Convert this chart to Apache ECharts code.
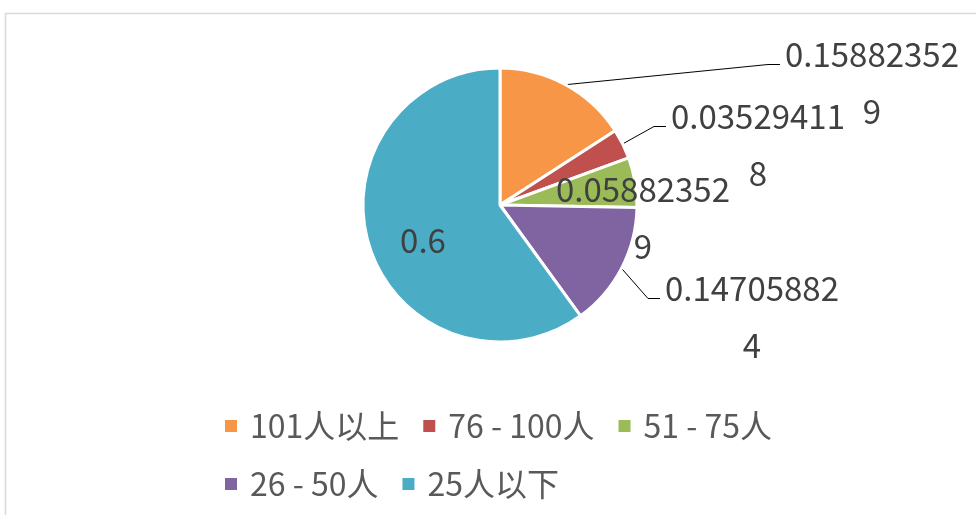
<!DOCTYPE html>
<html>
<head>
<meta charset="utf-8">
<script src="https://cdn.jsdelivr.net/npm/echarts@6/dist/echarts.min.js"></script>
<style>
  html, body { margin: 0; padding: 0; background: #fff; }
  #chart { width: 976px; height: 515px; }
</style>
</head>
<body>
<div id="chart"></div>
<script>
// 人数分组及占比
const categories = ['101人以上', '76 - 100人', '51 - 75人', '26 - 50人', '25人以下']
const shares = [0.158823529, 0.035294118, 0.058823529, 0.147058824, 0.6]
const colors = ['#F79646', '#C0504D', '#9BBB59', '#8064A2', '#4BACC6']

// 标签位置（中心点）与是否显示引导线
const labelSpots = [
    { x: 872, y: 83, line: true },
    { x: 758, y: 145, line: true },
    { x: 643, y: 218, line: false },
    { x: 752, y: 317, line: true },
    { x: 423, y: 240, line: false }
]
const LABEL_LH = 57

// Excel 风格：长数字每10个字符换行
const wrapNumber = v => {
    const s = String(v)
    const parts = []
    for (let i = 0; i < s.length; i += 10) parts.push(s.slice(i, i + 10))
    return parts.join('\n')
}

const chart = echarts.init(document.getElementById('chart'))

const option = {
    animation: false,
    color: colors,
    graphic: [{
        type: 'rect',
        shape: { x: 5.5, y: 13.5, width: 1200, height: 800 },
        style: { fill: 'none', stroke: '#d9d9d9', lineWidth: 1.5 },
        silent: true
    }],
    legend: {
        left: 218,
        top: 403,
        width: 600,
        icon: 'rect',
        itemWidth: 14,
        itemHeight: 14,
        itemGap: 22,
        textStyle: {
            fontFamily: 'Noto Sans CJK SC',
            fontSize: 32,
            color: '#595959',
            lineHeight: 36,
            padding: [0, 0, 0, 7]
        },
        data: categories
    },
    series: [{
        type: 'pie',
        center: [500, 205],
        radius: 137,
        startAngle: 90,
        clockwise: true,
        itemStyle: { borderColor: '#fff', borderWidth: 3 },
        label: {
            show: true,
            position: 'outside',
            formatter: p => wrapNumber(p.value),
            fontFamily: 'Noto Sans CJK SC',
            fontSize: 33,
            lineHeight: LABEL_LH,
            color: '#404040',
            align: 'center'
        },
        labelLine: { show: true, lineStyle: { color: '#000', width: 1 } },
        labelLayout: params => {
            const spot = labelSpots[params.dataIndex]
            const res = { x: spot.x, y: spot.y, align: 'center', verticalAlign: 'middle' }
            if (spot.line && params.labelLinePoints) {
                const start = params.labelLinePoints[0]
                const r = params.labelRect
                const endX = spot.x - r.width / 2 - 5
                const endY = spot.y - r.height / 2 + LABEL_LH / 2 + 10
                res.labelLinePoints = [start, [endX - 12, endY], [endX, endY]]
            }
            return res
        },
        data: categories.map((name, i) => ({
            name,
            value: shares[i],
            labelLine: { show: labelSpots[i].line }
        }))
    }]
}

chart.setOption(option)
</script>
</body>
</html>
